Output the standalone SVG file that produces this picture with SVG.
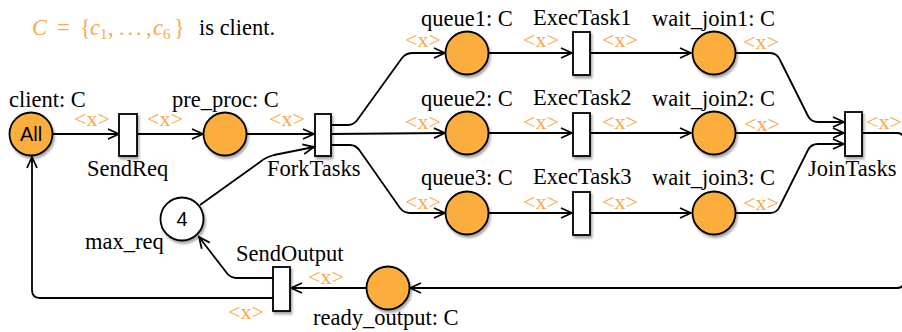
<svg xmlns="http://www.w3.org/2000/svg" width="902" height="332" viewBox="0 0 902 332">
<defs>
<filter id="sh" x="-30%" y="-30%" width="160%" height="160%">
<feDropShadow dx="1.5" dy="2.5" stdDeviation="1.2" flood-color="#000" flood-opacity="0.35"/>
</filter>
<marker id="arr" markerWidth="14" markerHeight="14" refX="12" refY="7" orient="auto" markerUnits="userSpaceOnUse">
<path d="M1,2 L12,7 L1,12" fill="none" stroke="#000" stroke-width="1.8"/>
</marker>
</defs>
<style>
.pl{fill:#FBAE3C;stroke:#000;stroke-width:1.8;filter:url(#sh)}
.pw{fill:#fff;stroke:#000;stroke-width:1.8;filter:url(#sh)}
.tr{fill:#fff;stroke:#000;stroke-width:1.8;filter:url(#sh)}
.lb{font-family:"Liberation Serif",serif;font-size:22.5px;fill:#000}
.in{font-family:"Liberation Sans",sans-serif;font-size:20px;fill:#000;text-anchor:middle}
.x{font-family:"Liberation Serif",serif;font-size:22px;fill:#F9A84A;text-anchor:middle}
.c{fill:none;stroke:#000;stroke-width:1.8}
.ar{marker-end:url(#arr)}
.m{fill:#F9A84A}
</style>

<text y="35" style="font-family:'Liberation Serif',serif;font-size:22.5px">
<tspan x="32" class="m" font-style="italic">C</tspan>
<tspan x="57" class="m">=</tspan>
<tspan x="80" class="m">{</tspan>
<tspan x="90" class="m" font-style="italic">c</tspan>
<tspan x="100" dy="4" class="m" font-size="15">1</tspan>
<tspan x="108" dy="-4" class="m">,</tspan>
<tspan x="119" class="m">.</tspan>
<tspan x="127.5" class="m">.</tspan>
<tspan x="136" class="m">.</tspan>
<tspan x="146" class="m">,</tspan>
<tspan x="153" class="m" font-style="italic">c</tspan>
<tspan x="163" dy="4" class="m" font-size="15">6</tspan>
<tspan x="174" dy="-4" class="m">}</tspan>
<tspan x="199" fill="#000">is client.</tspan>
</text>

<g id="connectors">
<path class="c ar" d="M53,134 L119,134"/>
<path class="c ar" d="M137,134 L203,134"/>
<path class="c ar" d="M247,134 L314,134"/>
<path class="c ar" d="M200,205 L260,162 Q266,157 274,155 L314,147"/>
<path class="c ar" d="M331,125 L348,125 Q354,125 358,119 L402,58 Q406,53 413,53 L445,53"/>
<path class="c ar" d="M331,134 L445,133"/>
<path class="c ar" d="M331,145 L350,145 Q356,145 360,151 L400,208 Q404,213 410,213 L445,213"/>
<path class="c ar" d="M488,53 L572,53"/>
<path class="c ar" d="M488,133 L572,133"/>
<path class="c ar" d="M488,213 L572,213"/>
<path class="c ar" d="M590,53 L691,53"/>
<path class="c ar" d="M590,133 L691,133"/>
<path class="c ar" d="M590,213 L691,213"/>
<path class="c ar" d="M735,53 L770,53 Q777,53 780,60 L808,116 Q811,122 818,122 L844,122"/>
<path class="c ar" d="M735,133 L844,133"/>
<path class="c ar" d="M735,213 L770,213 Q777,213 780,206 L808,150 Q811,144 818,144 L844,144"/>
<path class="c ar" d="M862,133 L897,133 Q904,133 904,140 L904,281 Q904,288 897,288 L410,288"/>
<path class="c ar" d="M367,288 L291,288"/>
<path class="c ar" d="M273,278 L237,278 Q230,278 226,272 L199,237"/>
<path class="c ar" d="M273,298 L40,298 Q32,298 32,290 L32,157"/>
</g>

<g id="client"><circle class="pl" cx="31" cy="134" r="21.5"/><text class="in" x="31" y="141">All</text><text class="lb" x="9" y="107">client: C</text></g>
<g id="pre_proc"><circle class="pl" cx="225" cy="134" r="21.5"/><text class="lb" x="172" y="107">pre_proc: C</text></g>
<g id="max_req"><circle class="pw" cx="182" cy="219" r="21.5"/><text class="in" x="182" y="226">4</text><text class="lb" x="85" y="249">max_req</text></g>
<g id="queue1"><circle class="pl" cx="467" cy="53" r="21.5"/><text class="lb" x="421" y="26">queue1: C</text></g>
<g id="queue2"><circle class="pl" cx="467" cy="133" r="21.5"/><text class="lb" x="421" y="106">queue2: C</text></g>
<g id="queue3"><circle class="pl" cx="467" cy="213" r="21.5"/><text class="lb" x="421" y="185">queue3: C</text></g>
<g id="wait_join1"><circle class="pl" cx="714" cy="53" r="21.5"/><text class="lb" x="652" y="26">wait_join1: C</text></g>
<g id="wait_join2"><circle class="pl" cx="714" cy="133" r="21.5"/><text class="lb" x="652" y="106">wait_join2: C</text></g>
<g id="wait_join3"><circle class="pl" cx="714" cy="213" r="21.5"/><text class="lb" x="652" y="185">wait_join3: C</text></g>
<g id="ready_output"><circle class="pl" cx="388" cy="288" r="21.5"/><text class="lb" x="313" y="325">ready_output: C</text></g>

<g id="SendReq"><rect class="tr" x="119" y="114" width="18" height="42"/><text class="lb" x="87" y="176">SendReq</text></g>
<g id="ForkTasks"><rect class="tr" x="315" y="114" width="16" height="42"/><text class="lb" x="267" y="176">ForkTasks</text></g>
<g id="ExecTask1"><rect class="tr" x="573" y="32" width="17" height="43"/><text class="lb" x="533" y="25">ExecTask1</text></g>
<g id="ExecTask2"><rect class="tr" x="573" y="113" width="17" height="43"/><text class="lb" x="533" y="105">ExecTask2</text></g>
<g id="ExecTask3"><rect class="tr" x="573" y="192" width="17" height="43"/><text class="lb" x="533" y="184">ExecTask3</text></g>
<g id="JoinTasks"><rect class="tr" x="845" y="112" width="17" height="44"/><text class="lb" x="808" y="176">JoinTasks</text></g>
<g id="SendOutput"><rect class="tr" x="273" y="267" width="17" height="44"/><text class="lb" x="236" y="261">SendOutput</text></g>

<g id="labels">
<text class="x" x="92" y="126" textLength="36" lengthAdjust="spacingAndGlyphs">&lt;x&gt;</text>
<text class="x" x="165" y="126" textLength="36" lengthAdjust="spacingAndGlyphs">&lt;x&gt;</text>
<text class="x" x="287" y="126" textLength="36" lengthAdjust="spacingAndGlyphs">&lt;x&gt;</text>
<text class="x" x="423" y="47" textLength="36" lengthAdjust="spacingAndGlyphs">&lt;x&gt;</text>
<text class="x" x="541" y="47" textLength="36" lengthAdjust="spacingAndGlyphs">&lt;x&gt;</text>
<text class="x" x="620" y="47" textLength="36" lengthAdjust="spacingAndGlyphs">&lt;x&gt;</text>
<text class="x" x="761" y="49" textLength="36" lengthAdjust="spacingAndGlyphs">&lt;x&gt;</text>
<text class="x" x="423" y="129" textLength="36" lengthAdjust="spacingAndGlyphs">&lt;x&gt;</text>
<text class="x" x="541" y="129" textLength="36" lengthAdjust="spacingAndGlyphs">&lt;x&gt;</text>
<text class="x" x="620" y="129" textLength="36" lengthAdjust="spacingAndGlyphs">&lt;x&gt;</text>
<text class="x" x="762" y="131" textLength="36" lengthAdjust="spacingAndGlyphs">&lt;x&gt;</text>
<text class="x" x="423" y="209" textLength="36" lengthAdjust="spacingAndGlyphs">&lt;x&gt;</text>
<text class="x" x="541" y="209" textLength="36" lengthAdjust="spacingAndGlyphs">&lt;x&gt;</text>
<text class="x" x="620" y="209" textLength="36" lengthAdjust="spacingAndGlyphs">&lt;x&gt;</text>
<text class="x" x="761" y="210" textLength="36" lengthAdjust="spacingAndGlyphs">&lt;x&gt;</text>
<text class="x" x="884" y="129" textLength="36" lengthAdjust="spacingAndGlyphs">&lt;x&gt;</text>
<text class="x" x="326" y="284" textLength="36" lengthAdjust="spacingAndGlyphs">&lt;x&gt;</text>
<text class="x" x="246" y="319" textLength="36" lengthAdjust="spacingAndGlyphs">&lt;x&gt;</text>
</g>
</svg>
